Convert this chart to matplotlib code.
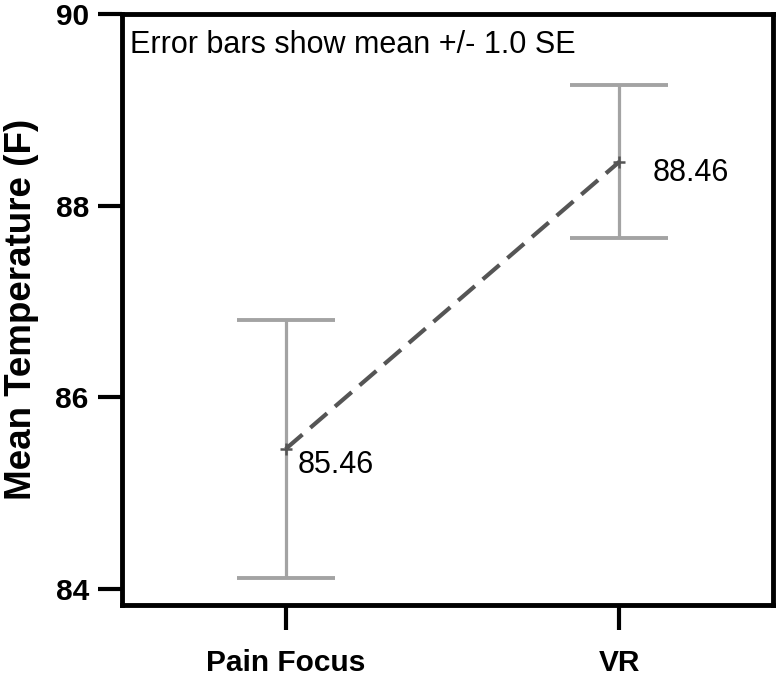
import matplotlib
matplotlib.use("Agg")
from matplotlib import pyplot as plt
import numpy as np

plt.rcParams['font.family'] = ['Liberation Sans', 'DejaVu Sans']

groups = ['Pain Focus', 'VR']
means = [85.46, 88.46]
se = [1.35, 0.8]
mean_labels = ['85.46', '88.46']
yticks = [84, 86, 88, 90]

x = np.arange(len(groups))

fig = plt.figure(figsize=(7.78, 6.76), dpi=100)
ax = fig.add_axes([0.157, 0.105, 0.8366, 0.874])

# error bars (grey) + dashed mean line
ax.errorbar(x, means, yerr=se, fmt='none', ecolor='#a3a3a3', elinewidth=2.3,
            capsize=35, capthick=2.8, zorder=2)
ax.plot(x, means, color='#555555', lw=3, dashes=(5.3, 2.5), zorder=3)
ax.plot(x, means, '+', color='#555555', ms=9, mew=1.8, zorder=3)

ax.text(x[0] + 0.036, means[0] - 0.17, mean_labels[0], fontsize=22, va='center')
ax.text(x[1] + 0.099, means[1] - 0.12, mean_labels[1], fontsize=22, va='center')
ax.text(0.012, 0.934, 'Error bars show mean +/- 1.0 SE', transform=ax.transAxes,
        fontsize=22, va='baseline')

ax.set_xlim(-0.49, 1.46)
ax.set_ylim(83.83, 90)
ax.set_xticks(x)
ax.set_xticklabels(groups, fontsize=21.5, fontweight='bold')
ax.set_yticks(yticks)
ax.set_yticklabels([str(t) for t in yticks], fontsize=21.5, fontweight='bold')
ax.set_ylabel('Mean Temperature (F)', fontsize=26.5, fontweight='bold', labelpad=12)

for s in ax.spines.values():
    s.set_linewidth(3.5)
ax.tick_params(axis='y', length=17, width=3, pad=7)
ax.tick_params(axis='x', length=18, width=3, pad=14)

fig.savefig('out.png', dpi=100)
